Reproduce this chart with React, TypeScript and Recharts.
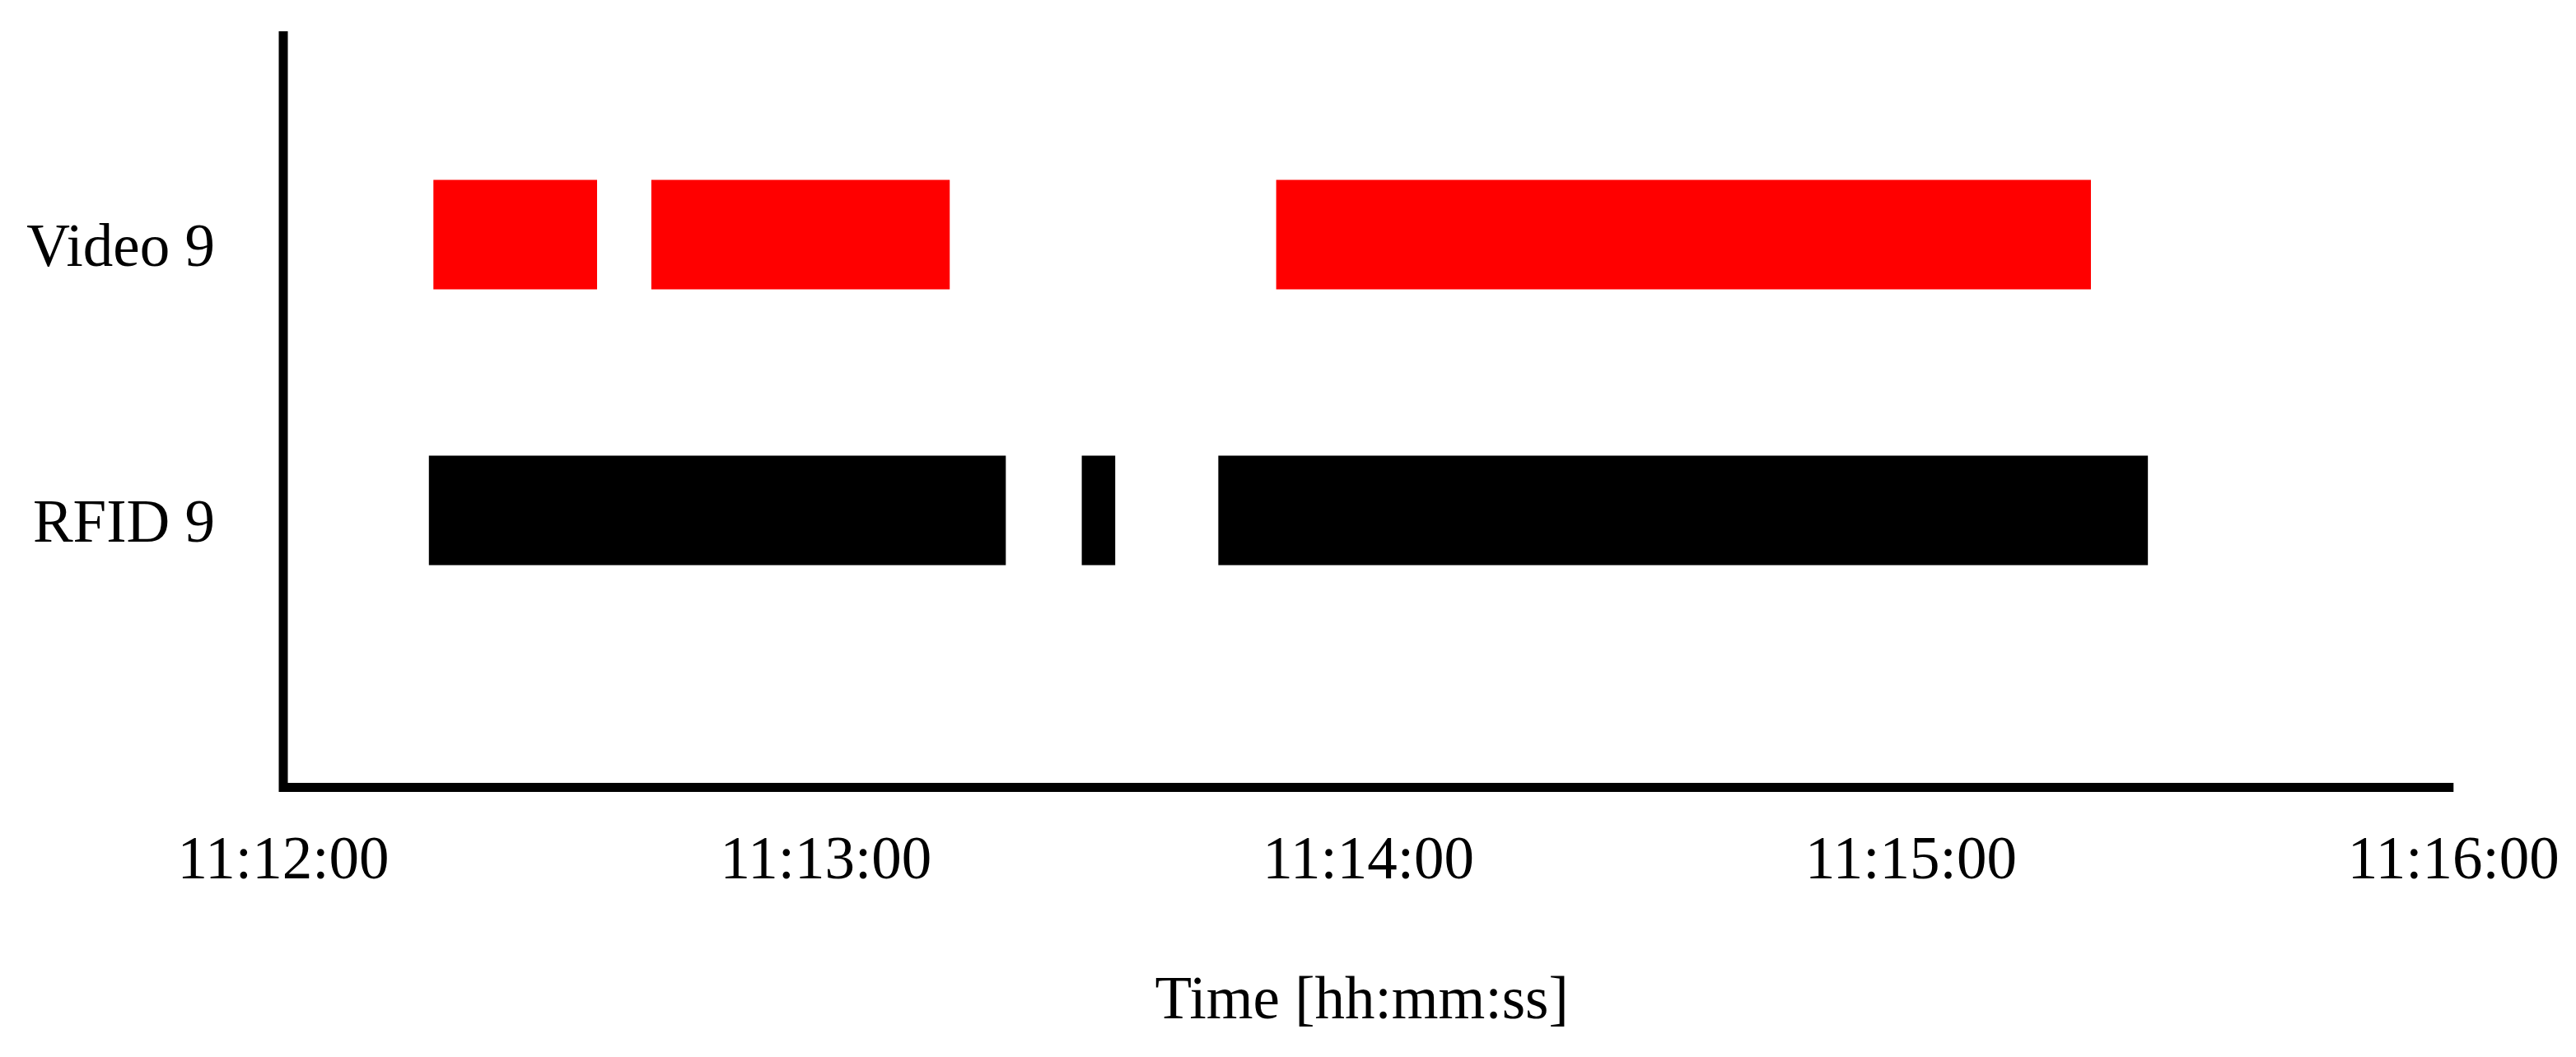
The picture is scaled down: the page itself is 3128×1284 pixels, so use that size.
import React from 'react';
import { BarChart, Bar, XAxis, YAxis, Cell, Label } from 'recharts';

// Row categories (top to bottom)
const CATEGORIES: string[] = ['Video 9', 'RFID 9'];
// Detection intervals, seconds after 11:12:00
const VIDEO_SEGMENTS: [number, number][] = [
  [16.6, 34.7],
  [40.7, 73.7],
  [109.8, 199.9],
];
const RFID_SEGMENTS: [number, number][] = [
  [16.1, 79.9],
  [88.3, 92.0],
  [103.4, 206.2],
];
const ROW_COLORS: string[] = ['#ff0000', '#000000'];
const TICK_SECONDS: number[] = [0, 60, 120, 180, 240];
const TICK_LABELS: string[] = ['11:12:00', '11:13:00', '11:14:00', '11:15:00', '11:16:00'];
const X_TITLE = 'Time [hh:mm:ss]';

const SEGMENTS_BY_ROW = [VIDEO_SEGMENTS, RFID_SEGMENTS];
const SEG_KEYS = ['seg0', 'seg1', 'seg2'];

const data = CATEGORIES.map((name, i) => {
  const row: any = { name };
  SEGMENTS_BY_ROW[i].forEach((s, k) => {
    row[SEG_KEYS[k]] = s;
  });
  return row;
});

const FONT = '"Liberation Serif", "Times New Roman", Times, serif';
const FS = 73;
const BAR = 133;

const XTick = (props: any) => {
  const { x, y, payload } = props;
  const idx = TICK_SECONDS.indexOf(payload.value);
  return (
    <text x={x} y={y + 110.5} textAnchor="middle" fontFamily={FONT} fontSize={FS} fill="#000">
      {idx >= 0 ? TICK_LABELS[idx] : payload.value}
    </text>
  );
};

const YTick = (props: any) => {
  const { x, y, payload } = props;
  return (
    <text x={x} y={y + 38} textAnchor="end" fontFamily={FONT} fontSize={FS} fill="#000">
      {payload.value}
    </text>
  );
};

const XTitle = (props: any) => {
  const vb = props.viewBox || { x: 0, y: 0, width: 0, height: 0 };
  return (
    <text
      x={vb.x + vb.width / 2 - 8}
      y={vb.y + 280.5}
      textAnchor="middle"
      fontFamily={FONT}
      fontSize={FS}
      fill="#000"
    >
      {X_TITLE}
    </text>
  );
};

export default function App() {
  return (
    <div style={{ width: 3112, height: 1268, background: '#fff' }}>
      <BarChart
        width={3112}
        height={1268}
        data={data}
        layout="vertical"
        margin={{ top: 35.5, right: 140.7, bottom: 92.5, left: 0 }}
        barSize={BAR}
        barGap={-BAR}
      >
        <XAxis
          type="number"
          domain={[0, 240]}
          ticks={TICK_SECONDS}
          allowDataOverflow
          height={227}
          axisLine={{ stroke: '#000', strokeWidth: 11 }}
          tickLine={false}
          tickSize={0}
          tickMargin={0}
          tick={<XTick />}
        >
          <Label content={<XTitle />} position="bottom" />
        </XAxis>
        <YAxis
          type="category"
          dataKey="name"
          width={336}
          padding={{ top: 74, bottom: 169 }}
          axisLine={{ stroke: '#000', strokeWidth: 11, strokeLinecap: 'square' }}
          tickLine={false}
          tickSize={0}
          tickMargin={83}
          tick={<YTick />}
        />
        {SEG_KEYS.map((k) => (
          <Bar key={k} dataKey={k} isAnimationActive={false}>
            {data.map((d, i) => (
              <Cell key={d.name} fill={ROW_COLORS[i]} />
            ))}
          </Bar>
        ))}
      </BarChart>
    </div>
  );
}
